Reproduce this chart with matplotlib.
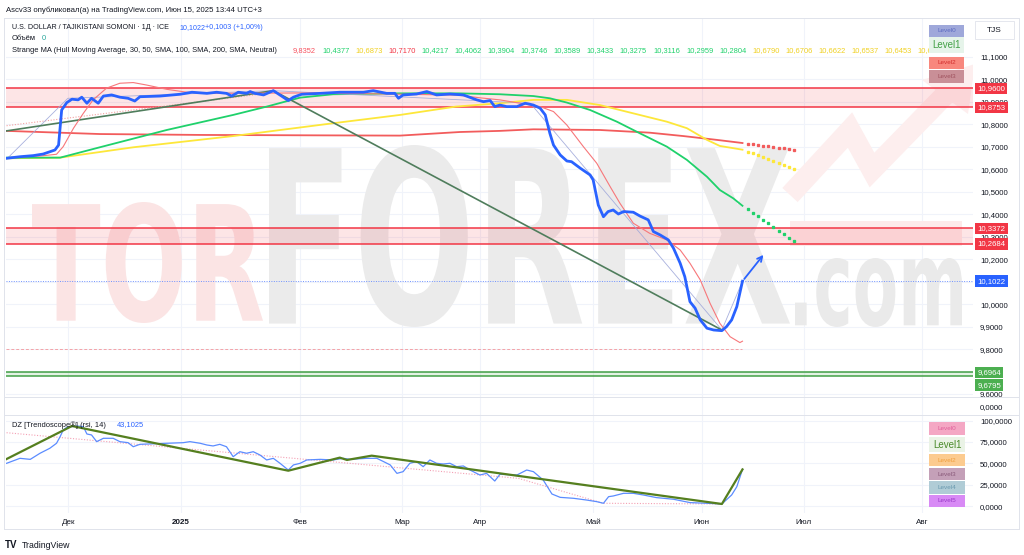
import numpy as np
import matplotlib.pyplot as plt
from matplotlib.textpath import TextPath
from matplotlib.patches import PathPatch, Rectangle, Polygon
from matplotlib.font_manager import FontProperties
from matplotlib.transforms import Affine2D
from matplotlib.lines import Line2D

plt.rcParams['font.family'] = ['Liberation Sans', 'DejaVu Sans']

W, H = 1024, 555

# ---------------- data (x = bar index, price in TJS) ----------------
month_pos = [12.3, 34.2, 57.3, 77.1, 92.2, 114.2, 135.3, 155.1, 178.1]
month_lbl = ['Дек', '2025', 'Фев', 'Мар', 'Апр', 'Май', 'Июн', 'Июл', 'Авг']

price_x = [0.3, 2.9, 5.5, 7.4, 9.7, 10.4, 11.0, 12.0, 13.0, 14.2, 14.9, 15.9, 16.8, 18.1,
           19.1, 20.7, 22.3, 23.9, 25.2, 26.2, 30.1, 34.0, 36.3, 39.2, 41.1, 43.0, 44.0,
           45.3, 46.9, 47.6, 48.5, 50.2, 52.1, 53.7, 55.0, 56.0, 57.6, 61.2, 65.0, 69.6,
           71.5, 74.1, 75.7, 76.4, 77.3, 79.9, 81.9, 83.8, 86.4, 89.0, 91.6, 92.9, 94.2,
           95.1, 96.1, 97.4, 99.4, 101.0, 102.6, 103.9, 104.9, 105.8, 106.5, 107.8, 109.1,
           110.0, 111.7, 113.6, 114.2, 115.2, 116.2, 117.1, 118.1, 119.1, 120.1, 122.0,
           123.3, 124.9, 125.9, 127.2, 128.8, 129.8, 131.1, 132.0, 133.0, 134.0, 135.0,
           136.3, 137.6, 139.2, 140.1, 141.1, 142.1, 143.2]
price_y = [10.649, 10.656, 10.661, 10.668, 10.686, 10.708, 10.864, 10.897, 10.912, 10.909,
           10.921, 10.894, 10.916, 10.894, 10.926, 10.931, 10.921, 10.916, 10.904, 10.923,
           10.926, 10.934, 10.943, 10.938, 10.943, 10.938, 10.926, 10.943, 10.938, 10.946,
           10.938, 10.931, 10.950, 10.926, 10.906, 10.921, 10.934, 10.938, 10.943, 10.943,
           10.950, 10.938, 10.938, 10.916, 10.931, 10.935, 10.946, 10.931, 10.935, 10.931,
           10.909, 10.901, 10.906, 10.879, 10.886, 10.879, 10.879, 10.894, 10.886, 10.872,
           10.842, 10.760, 10.708, 10.664, 10.637, 10.634, 10.605, 10.575, 10.553, 10.441,
           10.389, 10.412, 10.419, 10.401, 10.412, 10.409, 10.392, 10.375, 10.323, 10.308,
           10.286, 10.249, 10.182, 10.122, 10.011, 9.982, 9.930, 9.893, 9.885, 9.882,
           9.900, 9.930, 9.989, 10.1022]

hull_x = [0.3, 6.8, 10.0, 11.3, 13.3, 15.2, 17.1, 19.7, 22.3, 24.9, 27.5, 31.4, 35.3, 39.2,
          60.0, 75.0, 88.0, 92.3, 96.1, 100.0, 103.9, 106.5, 109.1, 112.3, 114.9, 117.5,
          119.4, 122.0, 125.2, 128.5, 131.1, 133.0, 135.0, 136.9, 138.8, 140.8, 142.7, 143.2]
hull_y = [10.652, 10.659, 10.667, 10.701, 10.783, 10.849, 10.909, 10.961, 10.983, 10.986,
          10.975, 10.956, 10.943, 10.938, 10.940, 10.935, 10.930, 10.918, 10.909, 10.894,
          10.879, 10.857, 10.797, 10.701, 10.627, 10.523, 10.449, 10.360, 10.315, 10.286,
          10.241, 10.182, 10.108, 10.004, 9.915, 9.855, 9.829, 9.8352]

sma50_x = [0.3, 10.7, 18.4, 31.4, 44.3, 50.8, 57.3, 63.7, 76.7, 88.0, 96.1, 102.6, 105.8,
           109.1, 113.6, 118.8, 123.3, 128.5, 132.4, 136.3, 138.8, 141.4, 143.2]
sma50_y = [10.652, 10.652, 10.698, 10.775, 10.842, 10.879, 10.919, 10.934, 10.938, 10.938,
           10.934, 10.926, 10.916, 10.897, 10.864, 10.812, 10.760, 10.701, 10.642, 10.567,
           10.508, 10.471, 10.4377]

sma100_x = [0.3, 10.7, 24.9, 44.3, 63.7, 76.7, 87.5, 96.1, 102.6, 109.1, 115.5, 122.0, 128.5,
            132.4, 136.3, 138.8, 143.2]
sma100_y = [10.649, 10.652, 10.698, 10.748, 10.805, 10.842, 10.879, 10.894, 10.909, 10.909,
            10.886, 10.849, 10.812, 10.783, 10.731, 10.704, 10.6873]

sma200_x = [0.3, 18.4, 37.9, 62.8, 76.7, 88.3, 96.1, 102.6, 115.5, 125.2, 131.7, 138.2, 143.2]
sma200_y = [10.771, 10.757, 10.753, 10.751, 10.750, 10.766, 10.771, 10.778, 10.775, 10.763,
            10.748, 10.731, 10.7170]

proj_x = [144.2, 145.2, 146.2, 147.2, 148.2, 149.2, 150.2, 151.2, 152.2, 153.2]
proj50 = [10.4217, 10.4062, 10.3904, 10.3746, 10.3589, 10.3433, 10.3275, 10.3116, 10.2959, 10.2804]
proj100 = [10.6790, 10.6706, 10.6622, 10.6537, 10.6453, 10.6369, 10.6284, 10.6200, 10.6116, 10.6031]
proj200 = [10.7135, 10.7107, 10.7078, 10.7050, 10.7021, 10.6993, 10.6964, 10.6936, 10.6907, 10.6879]

trend_x = [0.3, 52.1, 139.2]
trend_y = [10.771, 10.950, 9.885]
zig_x = [0.6, 12.2, 52.1, 102.0, 139.2, 143.2]
zig_y = [10.652, 10.916, 10.950, 10.894, 9.885, 10.1022]
pinkdot_x = [0.3, 50.8]
pinkdot_y = [10.794, 10.938]

res_zones = [(10.8753, 10.9600), (10.2684, 10.3372)]
sup_lines = [9.6795, 9.6964]
last_price = 10.1022
arrow_tip = (147.6, 10.229)
base_line = 9.799

rsi_x = [0.3, 2.9, 4.9, 6.8, 8.7, 10.0, 10.7, 11.3, 12.0, 13.9, 15.2, 15.9, 16.8, 17.8, 19.1,
         21.0, 22.3, 23.9, 24.9, 26.2, 31.4, 34.6, 35.9, 37.9, 39.2, 40.4, 41.7, 43.0, 44.3,
         45.6, 46.9, 48.2, 49.5, 50.8, 52.1, 53.4, 55.0, 56.0, 57.3, 58.6, 61.2, 63.7, 65.7,
         67.0, 70.2, 72.2, 73.5, 74.8, 76.1, 77.3, 78.6, 79.9, 81.2, 82.5, 83.8, 85.1, 86.4,
         87.7, 89.0, 90.3, 92.2, 93.5, 95.1, 96.1, 99.4, 101.3, 102.6, 104.5, 106.2, 107.8,
         110.4, 112.9, 114.9, 116.2, 117.2, 118.1, 120.1, 122.0, 123.9, 126.5, 129.8, 133.0,
         136.3, 139.2, 141.1, 142.1, 143.2]
rsi_y = [50.2, 56.0, 54.8, 61.9, 67.7, 73.5, 81.2, 89.0, 92.1, 93.6, 92.9, 84.3, 83.2, 75.4,
         79.3, 79.3, 75.4, 74.2, 69.5, 72.3, 73.5, 74.2, 75.4, 73.5, 71.5, 70.4, 72.3, 69.5,
         57.9, 63.7, 61.9, 63.7, 59.9, 54.1, 56.0, 50.2, 42.4, 48.3, 50.2, 54.1, 54.8, 54.1,
         56.0, 54.8, 56.0, 56.0, 52.2, 48.3, 38.5, 40.5, 50.2, 52.2, 46.3, 54.1, 50.2, 49.4,
         50.2, 46.3, 47.1, 42.4, 36.6, 38.5, 29.6, 37.4, 36.6, 42.4, 40.5, 30.8, 14.5, 10.6,
         9.5, 7.5, 5.6, 3.7, 11.4, 12.2, 15.3, 15.3, 13.4, 10.3, 8.4, 4.5, 3.7, 2.9, 13.4,
         23.0, 43.1025]
dz_x = [0.3, 13.0, 55.0, 65.0, 66.4, 71.2, 139.2, 143.2]
dz_y = [55.2, 93.6, 41.6, 56.8, 54.1, 59.1, 2.9, 43.1]
rsi_dot_x = [0.3, 99.7, 116.2, 139.2]
rsi_dot_y = [85.8, 32.7, 3.7, 2.9]

hdr_vals = ['10,4377', '10,6873', '10,7170', '10,4217', '10,4062', '10,3904', '10,3746',
            '10,3589', '10,3433', '10,3275', '10,3116', '10,2959', '10,2804', '10,6790',
            '10,6706', '10,6622', '10,6537', '10,6453', '10,6369...']

# ---------------- colours ----------------
C_BLUE = '#2962ff'
C_HULL = '#f7777a'
C_G = '#1fd16b'
C_Y = '#fde73a'
C_R = '#f25c5c'
C_ZONE = '#f23645'
C_TXT = '#131722'
C_GRID = '#f0f3fa'
hdr_cols = [C_G, '#f0d020', C_ZONE] + ['#1fd16b'] * 10 + ['#f0d020'] * 6

fig = plt.figure(figsize=(W / 100, H / 100), dpi=100)
fig.patch.set_facecolor('white')


def fx(px):
    return px / W


def fy(py):
    return 1 - py / H


L, R = 6, 973
ax = fig.add_axes([fx(L), fy(397.3), fx(R) - fx(L), fy(18.3) - fy(397.3)])
axv = fig.add_axes([fx(L), fy(415), fx(R) - fx(L), fy(397.3) - fy(415)])
axr = fig.add_axes([fx(L), fy(513), fx(R) - fx(L), fy(415) - fy(513)])

xlim = (0.19, 187.96)
for a in (ax, axv, axr):
    a.set_xlim(*xlim)
    a.patch.set_alpha(0)
    for s in a.spines.values():
        s.set_visible(False)
    a.set_xticks(month_pos)
    a.tick_params(axis='x', length=0)
    a.yaxis.tick_right()
    a.tick_params(axis='y', length=0, pad=5, labelsize=5.6, labelcolor=C_TXT)
    for p in month_pos:
        a.axvline(p, color=C_GRID, lw=0.8, zorder=0)
ax.set_xticklabels([])
axv.set_xticklabels([])

fmt = lambda v, p: f"{v:.4f}".replace('.', ',')

# ---------------- main pane ----------------
ax.set_ylim(9.5855, 11.272)
pt = np.arange(9.6, 11.15, 0.1)
ax.set_yticks(pt)
# 10,1000 and 9,7000 sit fully under price labels in the reference
hidden = (10.1, 9.7)
ax.yaxis.set_major_formatter(
    lambda v, p: '' if any(abs(v - h) < 1e-6 for h in hidden) else fmt(v, p))
for v in pt:
    ax.axhline(v, color=C_GRID, lw=0.8, zorder=0)


# watermark
def word(s, x0, y0, x1, y1, color):
    tp = TextPath((0, 0), s, size=100, prop=FontProperties(family='DejaVu Sans', weight='bold'))
    bb = tp.get_extents()
    tr = (Affine2D().translate(-bb.x0, -bb.y0)
          .scale((x1 - x0) / bb.width / W, (y1 - y0) / bb.height / H)
          .translate(x0 / W, 1 - y1 / H))
    ax.add_patch(PathPatch(tp, transform=tr + fig.transFigure, fc=color, ec='none', zorder=0.5))


WM_PINK = '#fbe4e4'
word('TOR', 32, 202, 263, 323, WM_PINK)
word('FOREX', 269, 145, 790, 327, '#ebebeb')
word('.com', 795, 258, 962, 327, '#eaeaea')
ax.add_line(Line2D([fx(790), fx(850), fx(872), fx(945)], [fy(195), fy(130), fy(170), fy(95)],
                   transform=fig.transFigure, color='#fdeeee', lw=15, zorder=0.5,
                   solid_joinstyle='miter', solid_capstyle='butt'))
ax.add_patch(Polygon([[fx(922), fy(80)], [fx(975), fy(64)], [fx(968), fy(114)]],
                     closed=True, transform=fig.transFigure, fc='#fdeeee', ec='none', zorder=0.5))
ax.add_patch(Rectangle((fx(790), fy(246)), fx(962) - fx(790), fy(221) - fy(246),
                       transform=fig.transFigure, fc='#fdeaea', ec='none', zorder=0.5))

for lo, hi in res_zones:
    ax.axhspan(lo, hi, color=C_ZONE, alpha=0.13, lw=0, zorder=1)
    ax.axhline(lo, color=C_ZONE, lw=1.1, zorder=1.5)
    ax.axhline(hi, color=C_ZONE, lw=1.1, zorder=1.5)
ax.axhspan(sup_lines[0], sup_lines[1], color='#4caf50', alpha=0.15, lw=0, zorder=1)
for v in sup_lines:
    ax.axhline(v, color='#43a047', lw=1.1, zorder=1.5)
ax.axhline(last_price, color='#6f92ff', lw=0.7, ls=(0, (1, 1.5)), zorder=1.5)
ax.plot([xlim[0], 143.2], [base_line, base_line], color='#f4a3a8', lw=0.7,
        ls=(0, (3, 2)), zorder=1.5)

ax.plot(sma200_x, sma200_y, color=C_R, lw=1.3, zorder=2)
ax.plot(sma100_x, sma100_y, color=C_Y, lw=1.3, zorder=2)
ax.plot(sma50_x, sma50_y, color=C_G, lw=1.3, zorder=2)
ax.plot(proj_x, proj200, ls='none', marker='s', ms=1.4, color=C_R, zorder=2)
ax.plot(proj_x, proj100, ls='none', marker='s', ms=1.4, color=C_Y, zorder=2)
ax.plot(proj_x, proj50, ls='none', marker='s', ms=1.4, color=C_G, zorder=2)
ax.plot(pinkdot_x, pinkdot_y, color='#f4a0a0', lw=0.8, ls=(0, (1, 1.5)), zorder=2)
ax.plot(zig_x, zig_y, color='#9fa8da', lw=0.6, alpha=0.9, zorder=2)
ax.plot(trend_x, trend_y, color='#4f7d5c', lw=1.2, zorder=2.2)
ax.plot(hull_x, hull_y, color=C_HULL, lw=0.8, zorder=2.3)
ax.plot(price_x, price_y, color=C_BLUE, lw=2.0, zorder=3, solid_joinstyle='round')
ax.annotate('', xy=arrow_tip, xytext=(price_x[-1], price_y[-1]),
            arrowprops=dict(arrowstyle='->', color=C_BLUE, lw=1.3, mutation_scale=9), zorder=3)


def plabel(v, fc, dy=0.0):
    # dy in pixels (positive = down), used to stack close labels as TradingView does
    ax.annotate(fmt(v, None), xy=(1.0, v), xycoords=ax.get_yaxis_transform(),
                xytext=(3, -dy * 0.72), textcoords='offset points', ha='left',
                va='center', fontsize=5.6, color='white', annotation_clip=False, zorder=10,
                bbox=dict(boxstyle='square,pad=0.3', fc=fc, ec='none'))


for lo, hi in res_zones:
    plabel(hi, C_ZONE)
    plabel(lo, C_ZONE)
plabel(last_price, C_BLUE)
plabel(sup_lines[1], '#4caf50', dy=0.0)
plabel(sup_lines[0], '#4caf50', dy=9.0)

# ---------------- volume pane ----------------
axv.set_ylim(-1, 1)
axv.set_yticks([0])
axv.yaxis.set_major_formatter(fmt)

# ---------------- RSI pane ----------------
axr.set_ylim(-7.6, 106.4)
rt = [0, 25, 50, 75, 100]
axr.set_yticks(rt)
axr.yaxis.set_major_formatter(fmt)
for v in rt:
    axr.axhline(v, color=C_GRID, lw=0.8, zorder=0)
axr.plot(rsi_dot_x, rsi_dot_y, color='#f4a0b4', lw=0.8, ls=(0, (1, 1.5)), zorder=1.5)
axr.plot(rsi_x, rsi_y, color='#5b8cff', lw=0.9, zorder=2)
axr.plot(dz_x, dz_y, color='#557f1f', lw=1.6, zorder=2.5)
axr.set_xticklabels(month_lbl)
axr.tick_params(axis='x', labelsize=5.8, labelcolor=C_TXT, pad=4)
for t in axr.get_xticklabels():
    if t.get_text() == '2025':
        t.set_fontweight('bold')

# pane separators and frame
for py in (18.3, 397.3, 415, 529):
    fig.add_artist(Line2D([fx(4), fx(1019)], [fy(py), fy(py)], color='#e0e3eb', lw=0.7))
for px in (4, 1019):
    fig.add_artist(Line2D([fx(px), fx(px)], [fy(18.3), fy(529)], color='#e0e3eb', lw=0.7))

# ---------------- header texts ----------------
fs = 5.4
fig.text(fx(6), fy(10), 'Ascv33 опубликовал(а) на TradingView.com, Июн 15, 2025 13:44 UTC+3',
         fontsize=5.6, color=C_TXT, va='center')
fig.text(fx(12), fy(27.7), 'U.S. DOLLAR / TAJIKISTANI SOMONI · 1Д · ICE', fontsize=5.1,
         color=C_TXT, va='center')
fig.text(fx(180), fy(27.7), '10,1022', fontsize=5.1, color=C_BLUE, va='center')
fig.text(fx(205), fy(27.7), '+0,1003 (+1,00%)', fontsize=5.1, color=C_BLUE, va='center')
fig.text(fx(12), fy(39), 'Объём', fontsize=fs, color=C_TXT, va='center')
fig.text(fx(42), fy(39), '0', fontsize=fs, color='#26a69a', va='center')
fig.text(fx(12), fy(50.7), 'Strange MA (Hull Moving Average, 30, 50, SMA, 100, SMA, 200, SMA, Neutral)',
         fontsize=fs, color=C_TXT, va='center')
fig.text(fx(293), fy(50.7), '9,8352', fontsize=fs, color='#f7525f', va='center')
for k, (v, c) in enumerate(zip(hdr_vals, hdr_cols)):
    fig.text(fx(322 + 33.1 * k), fy(50.7), v, fontsize=fs, color=c, va='center')

fig.text(fx(12), fy(425), 'DZ [Trendoscope®] (rsi, 14)', fontsize=fs, color=C_TXT, va='center')
fig.text(fx(117), fy(425), '43,1025', fontsize=fs, color=C_BLUE, va='center')


def box(x0, y0, x1, y1, fc, txt, tc, size=4.6, ec='none'):
    fig.add_artist(Rectangle((fx(x0), fy(y1)), fx(x1) - fx(x0), fy(y0) - fy(y1),
                             transform=fig.transFigure, fc=fc, ec=ec, lw=0.6, zorder=8))
    fig.text(fx((x0 + x1) / 2), fy((y0 + y1) / 2), txt, fontsize=size, color=tc,
             ha='center', va='center', zorder=9)


box(929, 25, 964, 36.7, '#9fa8da', 'Level0', '#5c6bc0')
box(929, 37.5, 964, 52.5, '#e6f4ea', 'Level1', '#43a047', size=7)
box(929, 56.7, 964, 69, '#f8877d', 'Level2', '#d32f2f')
box(929, 70, 964, 82.7, '#c98f97', 'Level3', '#a0525e')
box(975, 21, 1014, 39, 'white', 'TJS', C_TXT, size=6, ec='#e0e3eb')

box(929, 422, 965, 435, '#f4a7c4', 'Level0', '#e0609a')
box(929, 437, 965, 452, '#eaf3e6', 'Level1', '#4a8a2a', size=7)
box(929, 454, 965, 466, '#fccb8f', 'Level2', '#f0a040')
box(929, 468, 965, 480, '#c4a0b8', 'Level3', '#8a5a7a')
box(929, 481, 965, 494, '#b0ccd6', 'Level4', '#6a9ab0')
box(929, 495, 965, 507, '#d88af5', 'Level5', '#9a3ac8')

fig.text(fx(5), fy(545), 'TV', fontsize=7, fontweight='bold', color=C_TXT, va='center')
fig.text(fx(22), fy(545), 'TradingView', fontsize=6.3, color=C_TXT, va='center')

fig.savefig('out.png', dpi=100)
